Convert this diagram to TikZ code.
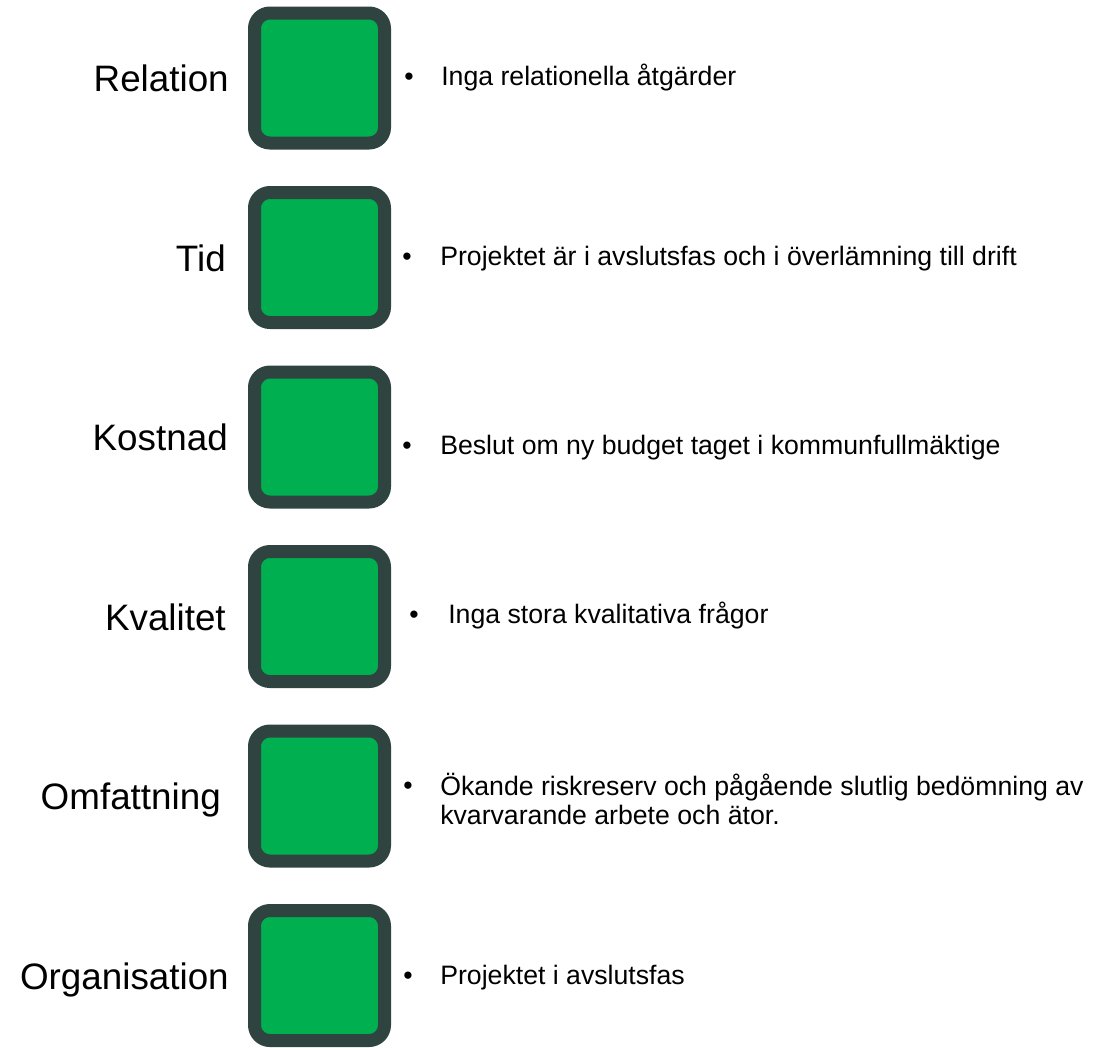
\documentclass[tikz,border=0pt]{standalone}
\usepackage{fontspec}
\setmainfont{Liberation Sans}
\usepackage{xcolor}
\usepackage{tikz}
\usetikzlibrary{positioning}

\definecolor{statusgreen}{RGB}{0,176,80}
\definecolor{statusframe}{RGB}{47,67,65}

\begin{document}
\begin{tikzpicture}[x=0.75pt,y=-0.75pt,
  statusbox/.style={draw=statusframe,fill=statusgreen,line width=9.75pt,
    rounded corners=11.6pt,minimum size=97.5pt,inner sep=0pt},
  rowlabel/.style={anchor=base east,inner sep=0pt,font=\fontsize{27.6}{33}\selectfont},
  bulletdot/.style={anchor=base,inner sep=0pt,font=\fontsize{20}{24}\selectfont},
  bullettext/.style={anchor=base west,inner sep=0pt,align=left,
    font=\fontsize{20}{21.75}\selectfont}]
\useasboundingbox (0,0) rectangle (1109,1047);

% Status rows: box, label and comment (\nl = extra lines of the comment)
\foreach \i/\name/\lx/\dy/\bx/\tx/\nl/\txt in {
  1/Relation/229/7/409/441/0/{Inga relationella åtgärder},
  2/Tid/226/8/407/440/0/{Projektet är i avslutsfas och i överlämning till drift},
  3/Kostnad/228/17/407/440/0/{Beslut om ny budget taget i kommunfullmäktige},
  4/Kvalitet/226/6.5/414/448/0/{Inga stora kvalitativa frågor},
  5/Omfattning/221/-2/408/440/1/{Ökande riskreserv och pågående slutlig bedömning av\\kvarvarande arbete och ätor.},
  6/Organisation/229/8.5/408/440/0/{Projektet i avslutsfas}
} {
  \pgfmathsetmacro{\cy}{78+179.5*(\i-1)}
  \node[statusbox] (box\i) at (319.5,\cy) {};
  \node[rowlabel] (label\i) at (\lx,\cy+13.5) {\name};
  \node[bulletdot] (dot\i) at (\bx,\cy+\dy) {•};
  \node[bullettext] (text\i) at (\tx,\cy+\dy+30*\nl) {\txt};
}
\end{tikzpicture}
\end{document}
